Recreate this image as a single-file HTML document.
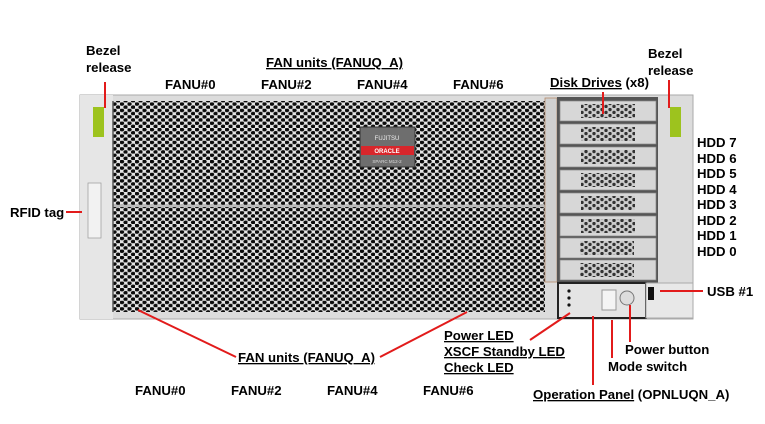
<!DOCTYPE html>
<html><head><meta charset="utf-8"><style>
html,body{margin:0;padding:0;background:#fff;}
svg text{font-family:"Liberation Sans",Arial,sans-serif;font-weight:bold;font-size:13.2px;fill:#000;}
</style></head><body>
<svg width="765" height="419" viewBox="0 0 765 419" xmlns="http://www.w3.org/2000/svg">
<defs>
<pattern id="hex" width="7.5" height="6.4" patternUnits="userSpaceOnUse">
<rect width="7.5" height="6.4" fill="#e4e4e4"/>
<ellipse cx="1.9" cy="1.6" rx="2.3" ry="1.9" fill="#0c0c0c"/>
<ellipse cx="5.65" cy="4.8" rx="2.3" ry="1.9" fill="#0c0c0c"/>
</pattern>
<pattern id="dh" width="8" height="6" patternUnits="userSpaceOnUse">
<rect width="8" height="6" fill="#ccc"/>
<circle cx="2" cy="1.5" r="1.7" fill="#333"/>
<circle cx="6" cy="4.5" r="1.7" fill="#333"/>
</pattern>
</defs>
<rect x="80" y="95" width="613" height="224" fill="#dcdcdc" stroke="#aaa"/>
<rect x="80" y="95" width="33" height="224" fill="#e6e6e6"/>
<rect x="93" y="107" width="11" height="30" fill="#9dc31e"/>
<rect x="88" y="183" width="13" height="55" fill="#f2f2f2" stroke="#999" stroke-width="0.7"/>
<rect x="113" y="101" width="432" height="211" fill="url(#hex)"/>
<line x1="113" y1="206" x2="545" y2="206" stroke="#bbb" stroke-width="2"/>
<line x1="113" y1="101" x2="113" y2="312" stroke="#555" stroke-width="1.5"/>
<rect x="360" y="127" width="55" height="40" fill="#6e6e6e" stroke="#333"/>
<rect x="361" y="146" width="53" height="9" fill="#d8262b"/>
<text x="387" y="140" text-anchor="middle" style="font-size:6px;fill:#eee;font-weight:normal">FUJITSU</text>
<text x="387" y="153" text-anchor="middle" style="font-size:6px;fill:#fff">ORACLE</text>
<text x="387" y="163" text-anchor="middle" style="font-size:4.5px;fill:#ddd;font-weight:normal">SPARC M12-2</text>
<rect x="545" y="98" width="12" height="184" fill="#d0d0d0" stroke="#b58a6a" stroke-width="0.8"/>
<rect x="557" y="97" width="101" height="186" fill="#555"/>
<g fill="#d7d7d7" stroke="#888" stroke-width="0.7">
<rect x="560" y="101" width="96" height="20"/>
<rect x="560" y="124" width="96" height="20"/>
<rect x="560" y="147" width="96" height="20"/>
<rect x="560" y="170" width="96" height="20"/>
<rect x="560" y="193" width="96" height="20"/>
<rect x="560" y="216" width="96" height="20"/>
<rect x="560" y="238" width="96" height="20"/>
<rect x="560" y="260" width="96" height="20"/>
</g>
<g fill="url(#dh)">
<rect x="581" y="104" width="54" height="14"/>
<rect x="581" y="127" width="54" height="14"/>
<rect x="581" y="150" width="54" height="14"/>
<rect x="581" y="173" width="54" height="14"/>
<rect x="581" y="196" width="54" height="14"/>
<rect x="581" y="219" width="54" height="14"/>
<rect x="580" y="241" width="54" height="14"/>
<rect x="580" y="263" width="54" height="14"/>
</g>
<rect x="558" y="283" width="88" height="35" fill="#e4e4e4" stroke="#222" stroke-width="2"/>
<circle cx="569" cy="291" r="1.6" fill="#111"/><circle cx="569" cy="298" r="1.6" fill="#111"/><circle cx="569" cy="305" r="1.6" fill="#111"/>
<rect x="602" y="290" width="14" height="20" fill="#f4f4f4" stroke="#999"/>
<circle cx="627" cy="298" r="7" fill="#ddd" stroke="#777"/>
<rect x="646" y="283" width="47" height="35" fill="#e8e8e8" stroke="#aaa"/>
<rect x="648" y="287" width="6" height="13" fill="#111"/>
<rect x="670" y="107" width="11" height="30" fill="#9dc31e"/>
<g stroke="#e21b1b" stroke-width="2" fill="none">
<line x1="105" y1="82" x2="105" y2="108"/>
<line x1="669" y1="80" x2="669" y2="108"/>
<line x1="603" y1="92" x2="603" y2="114"/>
<line x1="66" y1="212" x2="82" y2="212"/>
<line x1="660" y1="291" x2="703" y2="291"/>
<line x1="138" y1="310" x2="236" y2="357"/>
<line x1="380" y1="357" x2="467" y2="312"/>
<line x1="530" y1="340" x2="570" y2="313"/>
<line x1="630" y1="305" x2="630" y2="342"/>
<line x1="612" y1="320" x2="612" y2="358"/>
<line x1="593" y1="316" x2="593" y2="385"/>
</g>
<text x="86" y="55">Bezel</text><text x="86" y="72">release</text>
<text x="648" y="58">Bezel</text><text x="648" y="75">release</text>
<text x="266" y="67" text-decoration="underline">FAN units (FANUQ_A)</text>
<text x="165" y="89">FANU#0</text><text x="261" y="89">FANU#2</text><text x="357" y="89">FANU#4</text><text x="453" y="89">FANU#6</text>
<text x="550" y="87"><tspan text-decoration="underline">Disk Drives</tspan> (x8)</text>
<text x="697" y="147">HDD 7</text><text x="697" y="163">HDD 6</text><text x="697" y="178">HDD 5</text><text x="697" y="194">HDD 4</text>
<text x="697" y="209">HDD 3</text><text x="697" y="225">HDD 2</text><text x="697" y="240">HDD 1</text><text x="697" y="256">HDD 0</text>
<text x="10" y="217">RFID tag</text>
<text x="707" y="296">USB #1</text>
<text x="238" y="362" text-decoration="underline">FAN units (FANUQ_A)</text>
<text x="135" y="395">FANU#0</text><text x="231" y="395">FANU#2</text><text x="327" y="395">FANU#4</text><text x="423" y="395">FANU#6</text>
<text x="444" y="340" text-decoration="underline">Power LED</text>
<text x="444" y="356" text-decoration="underline">XSCF Standby LED</text>
<text x="444" y="372" text-decoration="underline">Check LED</text>
<text x="625" y="354">Power button</text>
<text x="608" y="371">Mode switch</text>
<text x="533" y="399"><tspan text-decoration="underline">Operation Panel</tspan> (OPNLUQN_A)</text>
</svg>
</body></html>
